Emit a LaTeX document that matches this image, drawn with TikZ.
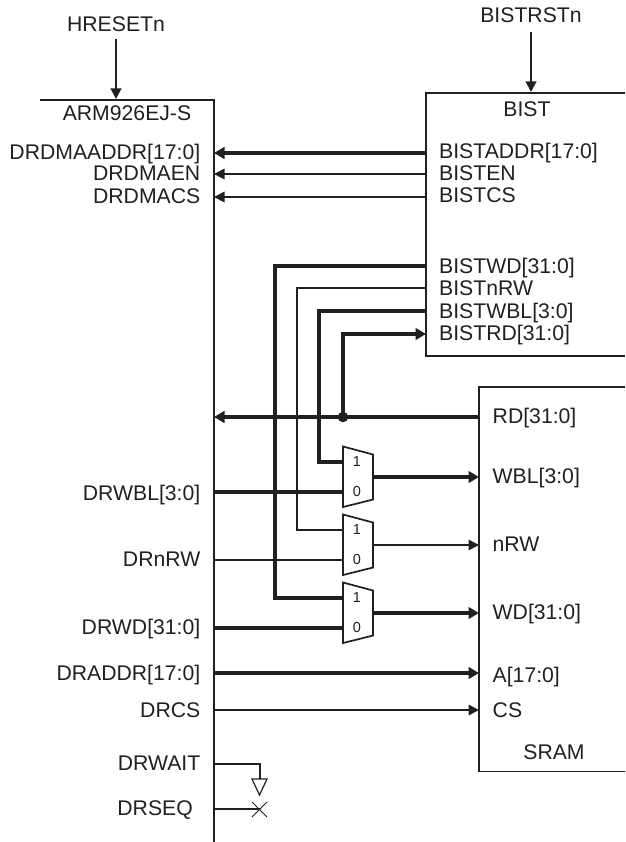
\documentclass[tikz,border=0pt]{standalone}
\usepackage{fontspec}
\setmainfont{Liberation Sans}
\usetikzlibrary{arrows.meta}
\definecolor{ink}{RGB}{35,31,32}
\tikzset{
  x=1pt,y=-1pt,
  every path/.style={color=ink},
  thickw/.style={draw=ink,line width=3.8pt},
  thinw/.style={draw=ink,line width=1.6pt},
  boxw/.style={draw=ink,line width=1.7pt},
  thickarr/.style={thickw,-{Triangle[length=10.5pt,width=11.5pt]}},
  thinarr/.style={thinw,-{Triangle[length=10.5pt,width=10.5pt]}},
  lbl/.style={font=\fontsize{21.2}{24}\selectfont,text=ink,inner sep=0pt,anchor=base},
  rlbl/.style={lbl,anchor=base east},
  llbl/.style={lbl,anchor=base west},
  muxd/.style={font=\fontsize{14.5}{16}\selectfont,text=ink,inner sep=0pt},
}
\newcommand{\muxat}[2]{% name, top y
  \coordinate (#1tl) at (343,#2);
  \coordinate (#1tr) at (373,#2+8);
  \coordinate (#1br) at (373,#2+53);
  \coordinate (#1bl) at (343,#2+60.5);
  \coordinate (#1a) at (343,#2+15.5);
  \coordinate (#1b) at (343,#2+45.5);
  \coordinate (#1o) at (373,#2+30.5);
  \draw[boxw,line join=miter] (#1tl)--(#1tr)--(#1br)--(#1bl)--cycle;
  \node[muxd] (#1n1) at (357,#2+15.5) {1};
  \node[muxd] (#1n0) at (357,#2+45.5) {0};
}
\begin{document}
\begin{tikzpicture}
\useasboundingbox (0,0) rectangle (625,842);
% ARM
\coordinate (armtl) at (40,100);
\coordinate (armtr) at (214,100);
\coordinate (armb) at (214,842);
\draw[boxw,line width=2pt] (armtl)--(armtr)--(armb);
\node[lbl] (armname) at (127,120.7) {ARM926EJ-S};
\node[lbl] (hreset) at (116,31.7) {HRESETn};
\coordinate (hresetp) at (116,39);
\coordinate (hresete) at (116,99);
\draw[thinarr,line width=2pt] (hresetp)--(hresete);
% BIST
\coordinate (bl) at (426,93);
\coordinate (blb) at (426,356);
\coordinate (btr) at (625,93);
\coordinate (bbr) at (625,356);
\draw[boxw] (btr)--(bl)--(blb)--(bbr);
\node[lbl] (bistname) at (527,117) {BIST};
\node[lbl] (bistrst) at (531,23) {BISTRSTn};
\coordinate (brp) at (531,32);
\coordinate (bre) at (531,92);
\draw[thinarr,line width=2pt] (brp)--(bre);
% SRAM
\coordinate (stl) at (479,387);
\coordinate (sbl) at (479,771.5);
\coordinate (str) at (625,387);
\coordinate (sbr) at (625,771.5);
\draw[boxw] (str)--(stl)--(sbl)--(sbr);
\node[lbl] (sramname) at (554,759) {SRAM};
% labels
\node[rlbl] (dma) at (200.5,159.3) {DRDMAADDR[17:0]};
\node[rlbl] (dmaen) at (200.5,180.7) {DRDMAEN};
\node[rlbl] (dmacs) at (200.5,203.3) {DRDMACS};
\node[rlbl] (wbl) at (200.5,500) {DRWBL[3:0]};
\node[rlbl] (nrw) at (200.5,566) {DRnRW};
\node[rlbl] (wd) at (200.5,634) {DRWD[31:0]};
\node[rlbl] (addr) at (200.5,680) {DRADDR[17:0]};
\node[rlbl] (cs) at (200.5,717) {DRCS};
\node[rlbl] (wait) at (200.5,770) {DRWAIT};
\node[rlbl] (seq) at (193,815) {DRSEQ};
\node[llbl] (bad) at (439,159) {BISTADDR[17:0]};
\node[llbl] (ben) at (439,181) {BISTEN};
\node[llbl] (bcs) at (439,203) {BISTCS};
\node[llbl] (bwd) at (439,273) {BISTWD[31:0]};
\node[llbl] (bnrw) at (439,295) {BISTnRW};
\node[llbl] (bwbl) at (439,318) {BISTWBL[3:0]};
\node[llbl] (brd) at (439,340) {BISTRD[31:0]};
\node[llbl] (srd) at (492.5,423) {RD[31:0]};
\node[llbl] (swbl) at (492.5,483) {WBL[3:0]};
\node[llbl] (snrw) at (492.5,551) {nRW};
\node[llbl] (swd) at (492.5,619) {WD[31:0]};
\node[llbl] (sa) at (492.5,682) {A[17:0]};
\node[llbl] (scs) at (492.5,717) {CS};
% pins
\foreach \n/\y in {pdma/153,pdmaen/174,pdmacs/197,prd/417,pwbl/492,pnrw/560,pwd/628,paddr/673,pcs/710,pwait/763.5,pseq/809}
  \coordinate (a\n) at (214,\y);
\foreach \n/\y in {pdma/153,pdmaen/174,pdmacs/197,pwd/266,pnrw/288,pwbl/311,prd/334}
  \coordinate (b\n) at (426,\y);
\foreach \n/\y in {prd/417,pwbl/477,pnrw/545,pwd/613,paddr/673,pcs/710}
  \coordinate (s\n) at (479,\y);
% BIST to ARM
\draw[thickarr] (bpdma)--(apdma);
\draw[thinarr] (bpdmaen)--(apdmaen);
\draw[thinarr] (bpdmacs)--(apdmacs);
% muxes
\muxat{ma}{446.5}
\muxat{mb}{514.5}
\muxat{mc}{582.5}
% routes
\coordinate (jd) at (343,417);
\draw[thickw] (bpwd) -| (275,598) -- (mca);
\draw[thinw] (bpnrw) -| (297,530) -- (mba);
\draw[thickw] (bpwbl) -| (319,462) -- (maa);
\draw[thickarr] (jd) -- (343,334) -- (bprd);
\draw[thickarr] (sprd)--(aprd);
\fill[ink] (jd) circle (5.3pt);
\draw[thickw] (apwbl)--(mab);
\draw[thinw] (apnrw)--(mbb);
\draw[thickw] (apwd)--(mcb);
\draw[thickarr] (mao)--(spwbl);
\draw[thinarr] (mbo)--(spnrw);
\draw[thickarr] (mco)--(spwd);
\draw[thickarr] (apaddr)--(spaddr);
\draw[thinarr] (apcs)--(spcs);
% wait tie-off
\coordinate (gt) at (260,779);
\draw[thinw,line width=2pt] (apwait) -| (gt);
\coordinate (gl) at (252,779);
\coordinate (gr) at (267,779);
\coordinate (ga) at (259.5,795);
\draw[thinw,line width=1.2pt,line join=miter] (gl)--(gr)--(ga)--cycle;
% seq
\coordinate (xc) at (259.5,809);
\draw[thinw] (apseq)--(xc);
\draw[line width=0.9pt] (252,802)--(267,817) (252,817)--(267,802);
\end{tikzpicture}
\end{document}
